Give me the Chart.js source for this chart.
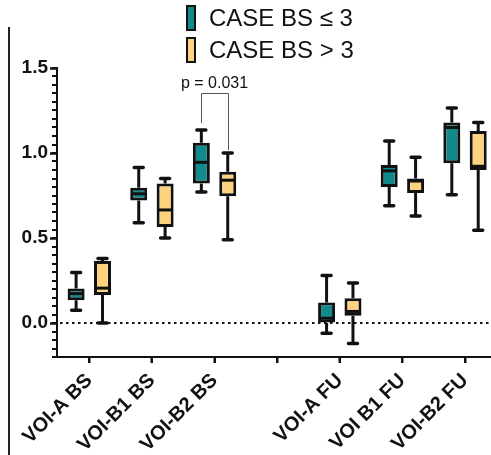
<!DOCTYPE html>
<html><head><meta charset="utf-8">
<script src="https://cdn.jsdelivr.net/npm/chart.js@4/dist/chart.umd.min.js"></script>
<style>
html,body{margin:0;padding:0;background:#fff;overflow:hidden;}
#wrap{position:relative;width:491px;height:455px;}
#frame{position:absolute;left:8px;top:27px;width:2px;height:428px;background:#222;}
.legrow{position:absolute;left:186px;height:26px;display:flex;align-items:center;font-family:"Liberation Sans",Arial,sans-serif;font-size:24px;color:#111;white-space:nowrap;}
.sw{width:10px;height:26px;box-sizing:border-box;border:2.5px solid #111;margin-right:13px;}
</style></head><body>
<div id="wrap">
<canvas id="c" width="491" height="455"></canvas>
<div id="frame"></div>
<div class="legrow" style="top:5px"><div class="sw" style="background:#12898a"></div><span>CASE BS ≤ 3</span></div>
<div class="legrow" style="top:37px"><div class="sw" style="background:#fed37f"></div><span>CASE BS &gt; 3</span></div>
</div>
<script>
// ---- data ----
const categories = ['VOI-A BS','VOI-B1 BS','VOI-B2 BS','','VOI-A FU','VOI B1 FU','VOI-B2 FU'];
const seriesNames = ['CASE BS ≤ 3','CASE BS > 3'];
const tealMin    = [0.075, 0.59, 0.77, null, -0.06, 0.69, 0.755];
const tealQ1     = [0.134, 0.72, 0.82, null, 0.00, 0.80, 0.94];
const tealMedian = [0.173, 0.76, 0.945, null, 0.028, 0.895, 1.15];
const tealQ3     = [0.203, 0.795, 1.06, null, 0.12, 0.93, 1.18];
const tealMax    = [0.297, 0.915, 1.135, null, 0.28, 1.07, 1.265];
const yellowMin    = [0.00, 0.50, 0.49, null, -0.12, 0.63, 0.545];
const yellowQ1     = [0.165, 0.565, 0.745, null, 0.043, 0.765, 0.90];
const yellowMedian = [0.205, 0.665, 0.84, null, 0.068, 0.835, 0.922];
const yellowQ3     = [0.365, 0.82, 0.89, null, 0.145, 0.85, 1.13];
const yellowMax    = [0.38, 0.85, 1.00, null, 0.235, 0.975, 1.18];
const yTickLabels = [0.0, 0.5, 1.0, 1.5];
const yMinorStep = 0.05;
const pValueLabel = 'p = 0.031';
const pValueCategory = 2;
const pBracketTop = 1.353, pBracketLeftEnd = 1.176, pBracketRightEnd = 1.017, pLabelY = 1.385;
const referenceLine = 0;

const FONT = '"Liberation Sans", Arial, sans-serif';
const stats = [
  {min: tealMin, q1: tealQ1, med: tealMedian, q3: tealQ3, max: tealMax},
  {min: yellowMin, q1: yellowQ1, med: yellowMedian, q3: yellowQ3, max: yellowMax}
];
function boxData(s) {
  return categories.map((c, i) => s.q1[i] == null ? null : {x: i, y: [s.q1[i], s.q3[i]]}).filter(Boolean);
}
const isMajor = v => yTickLabels.some(t => Math.abs(t - v) < 1e-6);

const extras = {
  id: 'boxExtras',
  beforeDatasetsDraw(chart) {
    const {ctx, chartArea, scales: {x, y}} = chart;
    const y0 = y.getPixelForValue(referenceLine);
    ctx.save();
    ctx.setLineDash([2.5, 3.5]);
    ctx.lineWidth = 2;
    ctx.strokeStyle = '#111';
    ctx.beginPath(); ctx.moveTo(chartArea.left + 3, y0); ctx.lineTo(chartArea.right, y0); ctx.stroke();
    ctx.setLineDash([]);
    // minor ticks on the y axis
    ctx.lineWidth = 2;
    ctx.beginPath();
    const n = Math.round((y.max - y.min) / yMinorStep);
    for (let k = 0; k <= n; k++) {
      const v = y.min + k * yMinorStep;
      const py = Math.round(y.getPixelForValue(v)) + 0.0;
      ctx.moveTo(chartArea.left - 5, py); ctx.lineTo(chartArea.left, py);
    }
    // tick marks for every category on the x axis (including the empty gap)
    categories.forEach((c, i) => {
      const px = Math.round(x.getPixelForValue(i));
      ctx.moveTo(px, chartArea.bottom); ctx.lineTo(px, chartArea.bottom + 6);
    });
    ctx.stroke();
    ctx.restore();
  },
  afterDatasetsDraw(chart) {
    const {ctx, scales: {y}} = chart;
    const centers = {};
    ctx.save();
    ctx.strokeStyle = '#111';
    chart.data.datasets.forEach((ds, di) => {
      const s = stats[di];
      const meta = chart.getDatasetMeta(di);
      meta.data.forEach((bar, j) => {
        const i = ds.data[j].x;
        const {x, width} = bar.getProps(['x', 'width'], true);
        centers[di + '_' + i] = x;
        const pMin = y.getPixelForValue(s.min[i]), pQ1 = y.getPixelForValue(s.q1[i]);
        const pQ3 = y.getPixelForValue(s.q3[i]), pMax = y.getPixelForValue(s.max[i]);
        const pMed = y.getPixelForValue(s.med[i]);
        ctx.lineCap = 'butt'; ctx.lineWidth = 3;
        ctx.beginPath();
        ctx.moveTo(x, pQ3); ctx.lineTo(x, pMax);
        ctx.moveTo(x, pQ1); ctx.lineTo(x, pMin);
        ctx.stroke();
        ctx.lineCap = 'round'; ctx.lineWidth = 3.5;
        ctx.beginPath();
        ctx.moveTo(x - 4.5, pMax); ctx.lineTo(x + 4.5, pMax);
        ctx.moveTo(x - 4.5, pMin); ctx.lineTo(x + 4.5, pMin);
        ctx.stroke();
        ctx.lineCap = 'butt'; ctx.lineWidth = 3;
        ctx.beginPath();
        ctx.moveTo(x - width / 2 + 1.5, pMed); ctx.lineTo(x + width / 2 - 1.5, pMed);
        ctx.stroke();
      });
    });
    // significance bracket
    const xl = centers['0_' + pValueCategory], xr = centers['1_' + pValueCategory];
    if (xl != null && xr != null) {
      const yt = Math.round(y.getPixelForValue(pBracketTop)) + 0.5;
      ctx.strokeStyle = '#555'; ctx.lineWidth = 1; ctx.lineCap = 'butt';
      ctx.beginPath();
      ctx.moveTo(Math.round(xl) + 0.5, y.getPixelForValue(pBracketLeftEnd)); ctx.lineTo(Math.round(xl) + 0.5, yt);
      ctx.lineTo(Math.round(xr) + 0.5, yt); ctx.lineTo(Math.round(xr) + 0.5, y.getPixelForValue(pBracketRightEnd));
      ctx.stroke();
      ctx.fillStyle = '#111';
      ctx.font = '16px ' + FONT;
      ctx.textAlign = 'center'; ctx.textBaseline = 'alphabetic';
      ctx.fillText(pValueLabel, (xl + xr) / 2, y.getPixelForValue(pLabelY));
    }
    ctx.restore();
  }
};

new Chart(document.getElementById('c'), {
  type: 'bar',
  data: {
    datasets: [
      {label: seriesNames[0], data: boxData(stats[0]), backgroundColor: '#12898a', borderColor: '#111', borderWidth: 3, borderSkipped: false},
      {label: seriesNames[1], data: boxData(stats[1]), backgroundColor: '#fed37f', borderColor: '#111', borderWidth: 3, borderSkipped: false}
    ]
  },
  options: {
    responsive: false,
    animation: false,
    devicePixelRatio: 1,
    layout: {padding: {top: 68, left: 0, right: 0, bottom: 0}},
    plugins: {legend: {display: false}, tooltip: {enabled: false}},
    datasets: {bar: {categoryPercentage: 0.843, barPercentage: 0.644}},
    scales: {
      x: {
        type: 'linear', min: -0.516, max: 6.415, offset: false,
        grid: {display: true, offset: false, drawOnChartArea: false, drawTicks: true, tickLength: 6, tickWidth: 2, tickColor: '#111'},
        border: {display: true, color: '#111', width: 2},
        ticks: {stepSize: 1, includeBounds: false, autoSkip: false, maxRotation: 45, minRotation: 45, padding: 6,
          color: '#111', font: {family: FONT, size: 20, weight: 'bold'},
          callback: v => categories[v] ?? ''},
        afterFit: s => { s.height = 98; }
      },
      y: {
        min: -0.2, max: 1.5,
        grid: {display: true, drawOnChartArea: false, drawTicks: true, tickLength: 7, tickWidth: 2.5, tickColor: '#111'},
        border: {display: true, color: '#111', width: 2},
        ticks: {stepSize: 0.5, includeBounds: false, autoSkip: false, padding: 2,
          color: '#111', font: {family: FONT, size: 19, weight: 'bold'},
          callback: v => isMajor(v) ? (Math.abs(v) < 1e-9 ? 0 : v).toFixed(1) : ''},
        afterFit: s => { s.width = 57; }
      }
    }
  },
  plugins: [extras]
});
</script>
</body></html>
